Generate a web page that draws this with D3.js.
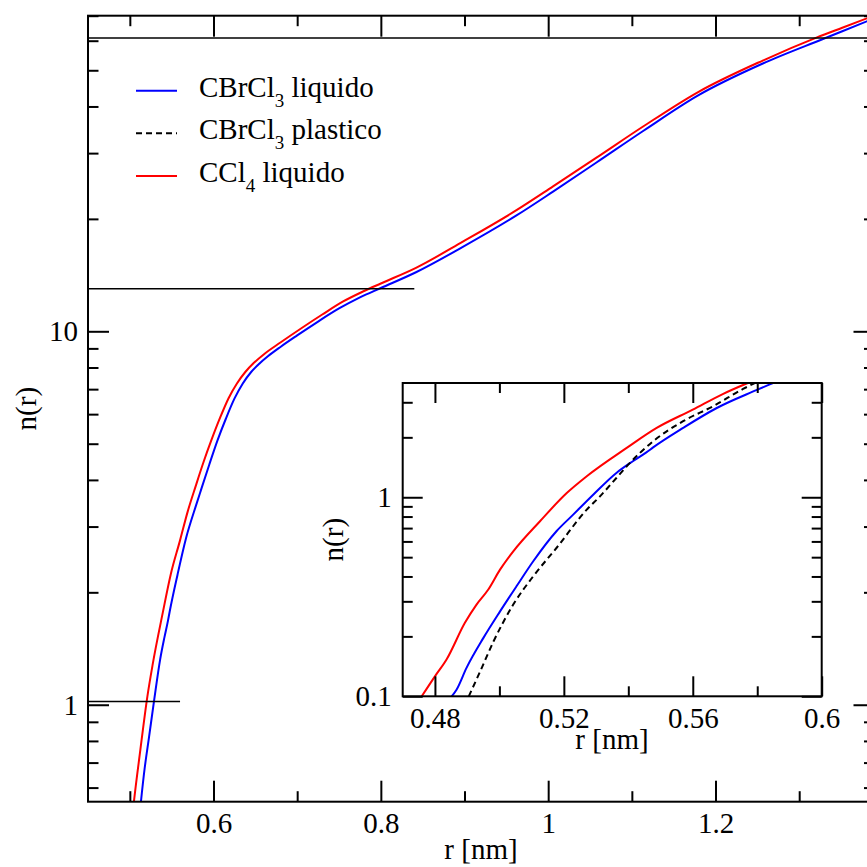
<!DOCTYPE html>
<html>
<head>
<meta charset="utf-8">
<script src="https://cdn.jsdelivr.net/npm/d3@7"></script>
<style>
  html, body { margin: 0; padding: 0; background: #fff; }
  svg { display: block; }
  text { font-family: "Liberation Serif", "Times New Roman", Times, serif; fill: #000; }
</style>
</head>
<body>
<svg id="chart" width="867" height="867"></svg>
<script>
// Running coordination number n(r) — r in nm
const seriesNames = ["CBrCl3 liquido", "CBrCl3 plastico", "CCl4 liquido"];

const cbrcl3LiqR = [0.4852, 0.4867, 0.4898, 0.4950, 0.5002, 0.5053, 0.5105, 0.5177, 0.5229, 0.5291,
  0.5363, 0.5414, 0.5456, 0.5477, 0.5570, 0.5673, 0.5797, 0.5849, 0.595, 0.605, 0.615, 0.625,
  0.635, 0.645, 0.655, 0.665, 0.680, 0.700, 0.725, 0.750, 0.775, 0.800, 0.842, 0.898, 0.9626,
  1.0058, 1.0577, 1.1139, 1.1787, 1.2565, 1.3299, 1.3809, 1.3950];
const cbrcl3LiqN = [0.100, 0.108, 0.139, 0.196, 0.267, 0.357, 0.477, 0.675, 0.818, 1.03,
  1.325, 1.517, 1.68, 1.78, 2.23, 2.80, 3.45, 3.75, 4.40, 5.12, 5.85, 6.60,
  7.25, 7.78, 8.20, 8.57, 9.08, 9.75, 10.62, 11.51, 12.33, 13.06, 14.39, 16.83, 20.46,
  23.66, 28.31, 34.44, 42.76, 52.12, 60.81, 67.61, 69.66];

const cbrcl3PlaR = [0.4905, 0.4940, 0.4982, 0.5043, 0.5105, 0.5177, 0.5271, 0.5312, 0.5363, 0.5395,
  0.5477, 0.5570, 0.5663, 0.5756, 0.5800];
const cbrcl3PlaN = [0.100, 0.133, 0.189, 0.289, 0.401, 0.556, 0.866, 1.01, 1.25, 1.43,
  1.911, 2.41, 2.866, 3.50, 3.80];

const ccl4LiqR = [0.4759, 0.4800, 0.4836, 0.4893, 0.4929, 0.4965, 0.5002, 0.5043, 0.5126, 0.5209,
  0.5271, 0.5395, 0.5488, 0.5600, 0.5693, 0.5787, 0.588, 0.598, 0.608, 0.618, 0.628, 0.638,
  0.648, 0.660, 0.680, 0.705, 0.730, 0.755, 0.780, 0.800, 0.842, 0.898, 0.9626, 1.0058,
  1.0577, 1.1139, 1.1787, 1.2565, 1.3213, 1.3515, 1.3809, 1.3950];
const ccl4LiqN = [0.100, 0.126, 0.153, 0.234, 0.289, 0.343, 0.433, 0.535, 0.758, 1.05,
  1.275, 1.77, 2.23, 2.755, 3.30, 3.85, 4.46, 5.15, 5.88, 6.62, 7.25, 7.78,
  8.22, 8.67, 9.33, 10.19, 11.09, 12.02, 12.82, 13.43, 14.79, 17.38, 21.13, 24.43,
  29.17, 35.40, 43.65, 53.09, 61.24, 65.01, 68.87, 70.79];

// horizontal guide levels and where they stop
const guideLevels = [1.02, 13, 61];
const guideEnds = [0.56, 0.84, 1.39];

// axis ticks
const mainXMajor = [0.6, 0.8, 1.0, 1.2, 1.4];
const mainXLabels = ["0.6", "0.8", "1", "1.2", ""];
const mainXMinor = [0.5, 0.7, 0.9, 1.1, 1.3];
const mainYMajor = [1, 10];
const mainYLabels = ["1", "10"];
const mainYMinor = [0.6, 0.7, 0.8, 0.9, 2, 3, 4, 5, 6, 7, 8, 9, 20, 30, 40, 50, 60, 70];
const insetXMajor = [0.48, 0.52, 0.56, 0.60];
const insetXLabels = ["0.48", "0.52", "0.56", "0.6"];
const insetXMinor = [0.50, 0.54, 0.58];
const insetYMajor = [0.1, 1];
const insetYLabels = ["0.1", "1"];
const insetYMinor = [0.2, 0.3, 0.4, 0.5, 0.6, 0.7, 0.8, 0.9, 2, 3];

const zipPts = (rs, ns) => rs.map((r, i) => ({ r, n: ns[i] }));
const series = [
  { name: seriesNames[0], head: "CBrCl", sub: "3", tail: " liquido", data: zipPts(cbrcl3LiqR, cbrcl3LiqN), color: "#0000ff", dash: null, inMain: true },
  { name: seriesNames[1], head: "CBrCl", sub: "3", tail: " plastico", data: zipPts(cbrcl3PlaR, cbrcl3PlaN), color: "#000000", dash: "6,4", inMain: false },
  { name: seriesNames[2], head: "CCl", sub: "4", tail: " liquido", data: zipPts(ccl4LiqR, ccl4LiqN), color: "#ff0000", dash: null, inMain: true }
];

const svg = d3.select("#chart");
const defs = svg.append("defs");
const FONT = 29;
const FAMILY = '"Liberation Serif", "Times New Roman", Times, serif';
const labelFrom = (values, labels) => d => labels[values.indexOf(d)];

// ---------- helpers ----------
function drawFrameAxes(g, x, y, opt) {
  const [x0, x1] = x.range();
  const [y0, y1] = y.range(); // y0 bottom, y1 top
  const style = sel => {
    sel.attr("font-family", FAMILY).attr("font-size", FONT);
    sel.select(".domain").remove();
    sel.selectAll("line").attr("stroke", "#000").attr("stroke-width", 2);
    sel.selectAll("text").style("font-size", FONT + "px").style("font-family", FAMILY);
  };
  const ax = (axisFn, scale, vals, size, fmt, pad) =>
    axisFn(scale).tickValues(vals).tickSizeInner(-size).tickSizeOuter(0)
      .tickPadding(pad || 3).tickFormat(fmt || "");
  // bottom
  g.append("g").attr("transform", `translate(0,${y0})`)
    .call(ax(d3.axisBottom, x, opt.xMajor, opt.major, labelFrom(opt.xMajor, opt.xLabels), opt.padX)).call(style);
  g.append("g").attr("transform", `translate(0,${y0})`)
    .call(ax(d3.axisBottom, x, opt.xMinor, opt.minor)).call(style);
  // top
  g.append("g").attr("transform", `translate(0,${y1})`)
    .call(ax(d3.axisTop, x, opt.xMajor, opt.major)).call(style);
  g.append("g").attr("transform", `translate(0,${y1})`)
    .call(ax(d3.axisTop, x, opt.xMinor, opt.minor)).call(style);
  // left
  g.append("g").attr("transform", `translate(${x0},0)`)
    .call(ax(d3.axisLeft, y, opt.yMajor, opt.major, labelFrom(opt.yMajor, opt.yLabels), opt.padY)).call(style);
  g.append("g").attr("transform", `translate(${x0},0)`)
    .call(ax(d3.axisLeft, y, opt.yMinor, opt.minor)).call(style);
  // right
  g.append("g").attr("transform", `translate(${x1},0)`)
    .call(ax(d3.axisRight, y, opt.yMajor, opt.major)).call(style);
  g.append("g").attr("transform", `translate(${x1},0)`)
    .call(ax(d3.axisRight, y, opt.yMinor, opt.minor)).call(style);
  // frame
  g.append("rect").attr("x", x0).attr("y", y1).attr("width", x1 - x0).attr("height", y0 - y1)
    .attr("fill", "none").attr("stroke", "#000").attr("stroke-width", 2);
}

function drawCurves(g, x, y, list, clipId) {
  const [x0, x1] = x.range();
  const [y0, y1] = y.range();
  defs.append("clipPath").attr("id", clipId)
    .append("rect").attr("x", x0).attr("y", y1).attr("width", x1 - x0).attr("height", y0 - y1);
  const line = d3.line().x(d => x(d.r)).y(d => y(d.n)).curve(d3.curveMonotoneX);
  const cg = g.append("g").attr("clip-path", `url(#${clipId})`);
  list.forEach(s => {
    cg.append("path").datum(s.data).attr("d", line)
      .attr("fill", "none").attr("stroke", s.color).attr("stroke-width", 2)
      .attr("stroke-linejoin", "round").attr("stroke-dasharray", s.dash);
  });
  return cg;
}

// ---------- main panel ----------
const x = d3.scaleLinear().domain([0.45, 1.39]).range([88, 874.5]);
const y = d3.scaleLog().domain([0.55, 70]).range([801.7, 15.7]);
const gMain = svg.append("g");

const cgMain = drawCurves(gMain, x, y, series.filter(s => s.inMain), "clipMain");
guideLevels.forEach((lv, i) => {
  cgMain.append("line").attr("x1", x(0.45)).attr("x2", x(guideEnds[i]))
    .attr("y1", y(lv)).attr("y2", y(lv)).attr("stroke", "#000").attr("stroke-width", 1.6);
});
drawFrameAxes(gMain, x, y, {
  xMajor: mainXMajor, xLabels: mainXLabels, xMinor: mainXMinor,
  yMajor: mainYMajor, yLabels: mainYLabels, yMinor: mainYMinor,
  major: 21, minor: 10.5, padX: 11, padY: 10
});

gMain.append("text").attr("x", 481).attr("y", 859).attr("text-anchor", "middle")
  .style("font-size", FONT + "px").text("r [nm]");
gMain.append("text").attr("transform", "translate(36,408.7) rotate(-90)")
  .attr("text-anchor", "middle").style("font-size", FONT + "px").text("n(r)");

// legend
const legend = gMain.append("g");
series.forEach((s, i) => {
  const ly = 90.7 + i * 42.6;
  legend.append("line").attr("x1", 136).attr("x2", 177).attr("y1", ly).attr("y2", ly)
    .attr("stroke", s.color).attr("stroke-width", 2).attr("stroke-dasharray", s.dash);
  const t = legend.append("text").attr("x", 199).attr("y", ly + 6).style("font-size", FONT + "px");
  t.append("tspan").text(s.head);
  t.append("tspan").attr("dy", 10).style("font-size", "19px").text(s.sub);
  t.append("tspan").attr("dy", -10).text(s.tail);
});

// ---------- inset panel ----------
const xi = d3.scaleLinear().domain([0.47, 0.60]).range([402.7, 821.7]);
const yi = d3.scaleLog().domain([0.1, 3.75]).range([696.3, 383]);
const gInset = svg.append("g");
gInset.append("rect").attr("x", 402.7).attr("y", 383).attr("width", 419).attr("height", 313.3).attr("fill", "#fff");
drawCurves(gInset, xi, yi, series, "clipInset");
drawFrameAxes(gInset, xi, yi, {
  xMajor: insetXMajor, xLabels: insetXLabels, xMinor: insetXMinor,
  yMajor: insetYMajor, yLabels: insetYLabels, yMinor: insetYMinor,
  major: 20, minor: 10, padX: 11, padY: 11
});
gInset.append("text").attr("x", 612).attr("y", 749).attr("text-anchor", "middle")
  .style("font-size", FONT + "px").text("r [nm]");
gInset.append("text").attr("transform", "translate(343,539.7) rotate(-90)")
  .attr("text-anchor", "middle").style("font-size", FONT + "px").text("n(r)");
</script>
</body>
</html>
